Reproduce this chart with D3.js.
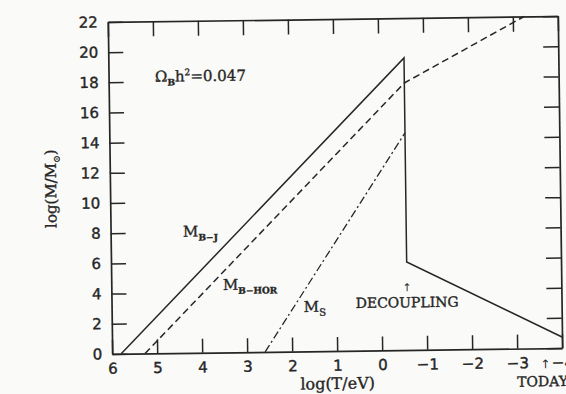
<!DOCTYPE html>
<html>
<head>
<meta charset="utf-8">
<script src="https://cdn.jsdelivr.net/npm/d3@7"></script>
<style>
  body { margin: 0; background: #fafaf8; }
  svg { display: block; }
</style>
</head>
<body>
<svg width="566" height="394"></svg>
<script>
// values: log(T/eV) and log(M/Msun)
var xTicks = [6, 5, 4, 3, 2, 1, 0, -1, -2, -3, -4];
var yTicks = [0, 2, 4, 6, 8, 10, 12, 14, 16, 18, 20, 22];

var decoupling = -0.57;

// baryon Jeans mass (solid), drops at decoupling
var mbjT = [5.80, decoupling, decoupling, -4];
var mbjM = [0, 19.36, 5.84, 0.73];

// baryon horizon mass (dashed)
var mhorT = [5.27, decoupling, -3.25];
var mhorM = [0, 17.7, 22];

// silk mass (dash-dot)
var msT = [2.60, decoupling];
var msM = [0, 14.39];

var width = 566;
var height = 394;
var margin = {left: 110, right: 6, top: 19, bottom: 43};

var xScale = d3.scaleLinear().domain([6, -4]).range([margin.left, width - margin.right]);
var yScale = d3.scaleLinear().domain([0, 22]).range([height - margin.bottom, margin.top]);

var ink = "#262626";
var svg = d3.select("svg");

svg.append("rect")
  .attr("width", width)
  .attr("height", height)
  .attr("fill", "#fafaf8");

// the scan is tilted a little
var g = svg.append("g")
  .attr("transform", "rotate(-0.75,335,185)");

function zip(ts, ms) {
  return ts.map(function (t, i) { return {t: t, m: ms[i]}; });
}

var line = d3.line()
  .x(function (d) { return xScale(d.t); })
  .y(function (d) { return yScale(d.m); });

// axes, ticks pointing inward
var axisBottom = d3.axisBottom(xScale).tickValues(xTicks).tickSize(-14).tickSizeOuter(0).tickPadding(9);
var axisLeft = d3.axisLeft(yScale).tickValues(yTicks).tickSize(-15).tickSizeOuter(0).tickPadding(10);
var axisTop = d3.axisTop(xScale).tickValues(xTicks).tickSize(-15).tickSizeOuter(0).tickFormat("");
var axisRight = d3.axisRight(yScale).tickValues(yTicks).tickSize(-15).tickSizeOuter(0).tickFormat("");

var axes = [
  {axis: axisBottom, tr: "translate(0," + (height - margin.bottom) + ")"},
  {axis: axisLeft, tr: "translate(" + margin.left + ",0)"},
  {axis: axisTop, tr: "translate(0," + margin.top + ")"},
  {axis: axisRight, tr: "translate(" + (width - margin.right) + ",0)"}
];

axes.forEach(function (a) {
  var ax = g.append("g")
    .attr("transform", a.tr)
    .call(a.axis);
  ax.select(".domain").attr("stroke", ink).attr("stroke-width", 1.7);
  ax.selectAll(".tick line").attr("stroke", ink).attr("stroke-width", 1.5);
  ax.selectAll(".tick text")
    .attr("fill", ink)
    .attr("stroke", ink)
    .attr("stroke-width", 0.4)
    .style("font-family", "DejaVu Sans")
    .style("font-size", "15px");
});

// curves
g.append("path")
  .datum(zip(mbjT, mbjM))
  .attr("d", line)
  .attr("fill", "none")
  .attr("stroke", ink)
  .attr("stroke-width", 1.5);

g.append("path")
  .datum(zip(mhorT, mhorM))
  .attr("d", line)
  .attr("fill", "none")
  .attr("stroke", ink)
  .attr("stroke-width", 1.5)
  .attr("stroke-dasharray", "7,4");

g.append("path")
  .datum(zip(msT, msM))
  .attr("d", line)
  .attr("fill", "none")
  .attr("stroke", ink)
  .attr("stroke-width", 1.3)
  .attr("stroke-dasharray", "8,3,2,3");

// labels, a thin stroke makes them as heavy as the print
function label(x, y, size) {
  return g.append("text")
    .attr("x", x)
    .attr("y", y)
    .attr("fill", ink)
    .attr("stroke", ink)
    .attr("stroke-width", 0.35)
    .style("font-family", "DejaVu Serif")
    .style("font-size", size + "px");
}

function arrow(x, y, size) {
  return g.append("text")
    .attr("x", x)
    .attr("y", y)
    .attr("fill", ink)
    .attr("text-anchor", "middle")
    .style("font-family", "DejaVu Sans")
    .style("font-size", size + "px")
    .text("\u2191\uFE0E");
}

var om = label(xScale(4.97), yScale(18.0), 15);
om.append("tspan").text("Ω");
om.append("tspan").attr("dy", 4).style("font-size", "9px").style("font-weight", "bold").text("B");
om.append("tspan").attr("dy", -4).text("h");
om.append("tspan").attr("dy", -6).style("font-size", "9px").text("2");
om.append("tspan").attr("dy", 6).text("=0.047");

var mbj = label(xScale(4.39), yScale(7.7), 15);
mbj.append("tspan").text("M");
mbj.append("tspan").attr("dy", 4).style("font-size", "9px").style("font-weight", "bold").text("B−J");

var mhor = label(xScale(3.52), yScale(4.14), 15);
mhor.append("tspan").text("M");
mhor.append("tspan").attr("dy", 4).style("font-size", "9px").style("font-weight", "bold").text("B−HOR");

var ms = label(xScale(1.73), yScale(2.61), 15);
ms.append("tspan").text("M");
ms.append("tspan").attr("dy", 4).style("font-size", "10px").text("S");

label(xScale(decoupling), yScale(2.83), 14)
  .attr("text-anchor", "middle")
  .text("DECOUPLING");

arrow(xScale(decoupling), yScale(3.9), 11);

arrow(xScale(-4) - 17, height - margin.bottom + 20, 12);

label(xScale(-2.99), height - margin.bottom + 38, 14)
  .text("TODAY");

// axis titles
label((margin.left + width - margin.right) / 2, height - margin.bottom + 38, 16)
  .attr("text-anchor", "middle")
  .text("log(T/eV)");

var yl = label(0, 0, 15)
  .attr("transform", "translate(56," + yScale(11) + ") rotate(-90)")
  .attr("text-anchor", "middle");
yl.append("tspan").text("log(M/M");
yl.append("tspan").attr("dy", 4).style("font-size", "9px").text("⊙");
yl.append("tspan").attr("dy", -4).text(")");
</script>
</body>
</html>
